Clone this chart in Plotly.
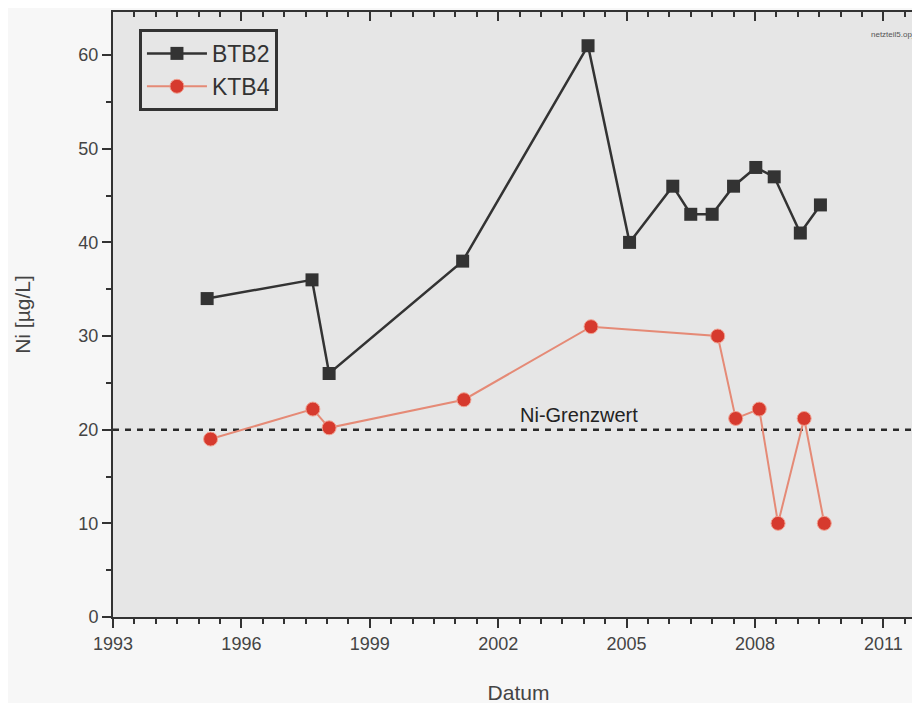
import plotly.graph_objects as go

# Data
btb2_years = [1995.2, 1997.65, 1998.05, 2001.17, 2004.1, 2005.07, 2006.08, 2006.5,
              2007.0, 2007.5, 2008.02, 2008.45, 2009.06, 2009.53]
btb2_ni = [34, 36, 26, 38, 61, 40, 46, 43, 43, 46, 48, 47, 41, 44]

ktb4_years = [1995.28, 1997.67, 1998.05, 2001.2, 2004.17, 2007.13, 2007.55, 2008.1,
              2008.54, 2009.15, 2009.62]
ktb4_ni = [19, 22.2, 20.2, 23.2, 31, 30, 21.2, 22.2, 10, 21.2, 10]

grenzwert = 20
x_ticks = [1993, 1996, 1999, 2002, 2005, 2008, 2011]
y_ticks = [0, 10, 20, 30, 40, 50, 60]

x_range = [1993, 2011.95]
y_range = [0, 64.6]

FONT = "Liberation Sans, Arial, sans-serif"
AX = "#333333"

fig = go.Figure()

fig.add_trace(go.Scatter(
    x=x_range, y=[grenzwert, grenzwert], mode="lines",
    line=dict(color="#2a2a2a", width=2.5, dash="6px,6px"),
    showlegend=False, hoverinfo="skip"))

fig.add_trace(go.Scatter(
    x=btb2_years, y=btb2_ni, mode="lines+markers", name="BTB2",
    line=dict(color="#333333", width=2.5),
    marker=dict(symbol="square", size=13, color="#333333")))

fig.add_trace(go.Scatter(
    x=ktb4_years, y=ktb4_ni, mode="lines+markers", name="KTB4",
    line=dict(color="#e58a76", width=2),
    marker=dict(symbol="circle", size=14, color="#d63a2e",
                line=dict(color="#f0a090", width=1))))

fig.add_annotation(x=2003.9, y=grenzwert, yshift=2, text="Ni-Grenzwert",
                   showarrow=False, yanchor="bottom",
                   font=dict(family=FONT, size=20, color="#222222"))

fig.add_annotation(xref="paper", yref="paper", x=0.99, y=0.962,
                   text="netzteil5.opj", showarrow=False,
                   font=dict(family=FONT, size=8, color="#555555"),
                   xanchor="right", yanchor="middle")

fig.update_layout(
    width=920, height=703,
    margin=dict(l=105, r=4, t=4, b=94),
    paper_bgcolor="#f7f7f7",
    plot_bgcolor="#e6e6e6",
    font=dict(family=FONT, size=18, color="#444444"),
    legend=dict(x=0.032, y=0.972, xanchor="left", yanchor="top",
                bgcolor="#e6e6e6", bordercolor="#333333", borderwidth=3,
                font=dict(family=FONT, size=23, color="#333333"),
                itemwidth=60, tracegroupgap=2),
    xaxis=dict(range=x_range, tickvals=x_ticks, ticktext=[str(v) for v in x_ticks],
               showgrid=False, zeroline=False, showline=True, linecolor=AX, linewidth=2,
               ticks="outside", ticklen=9, tickwidth=2, tickcolor=AX,
               minor=dict(dtick=0.5, tick0=1993, ticks="outside", ticklen=5,
                          tickwidth=1.5, tickcolor=AX, showgrid=False),
               title=dict(text="Datum", font=dict(family=FONT, size=21, color="#444444"),
                          standoff=33)),
    xaxis2=dict(range=x_range, overlaying="x", side="top", tickvals=x_ticks,
                showticklabels=False, showgrid=False, zeroline=False,
                showline=True, linecolor=AX, linewidth=2,
                ticks="inside", ticklen=9, tickwidth=2, tickcolor=AX,
                minor=dict(dtick=0.5, tick0=1993, ticks="inside", ticklen=5,
                           tickwidth=1.5, tickcolor=AX, showgrid=False)),
    yaxis=dict(range=y_range, tickvals=y_ticks, showgrid=False, zeroline=False,
               showline=True, linecolor=AX, linewidth=2,
               ticks="outside", ticklen=9, tickwidth=2, tickcolor=AX,
               minor=dict(dtick=5, ticks="outside", ticklen=5, tickwidth=1.5,
                          tickcolor=AX, showgrid=False),
               title=dict(text="Ni [µg/L]", font=dict(family=FONT, size=21, color="#444444"),
                          standoff=42)),
)

# invisible trace to activate the top axis
fig.add_trace(go.Scatter(x=[x_range[0]], y=[None], xaxis="x2", showlegend=False,
                         hoverinfo="skip", mode="markers"))

fig.write_html("out.html")
